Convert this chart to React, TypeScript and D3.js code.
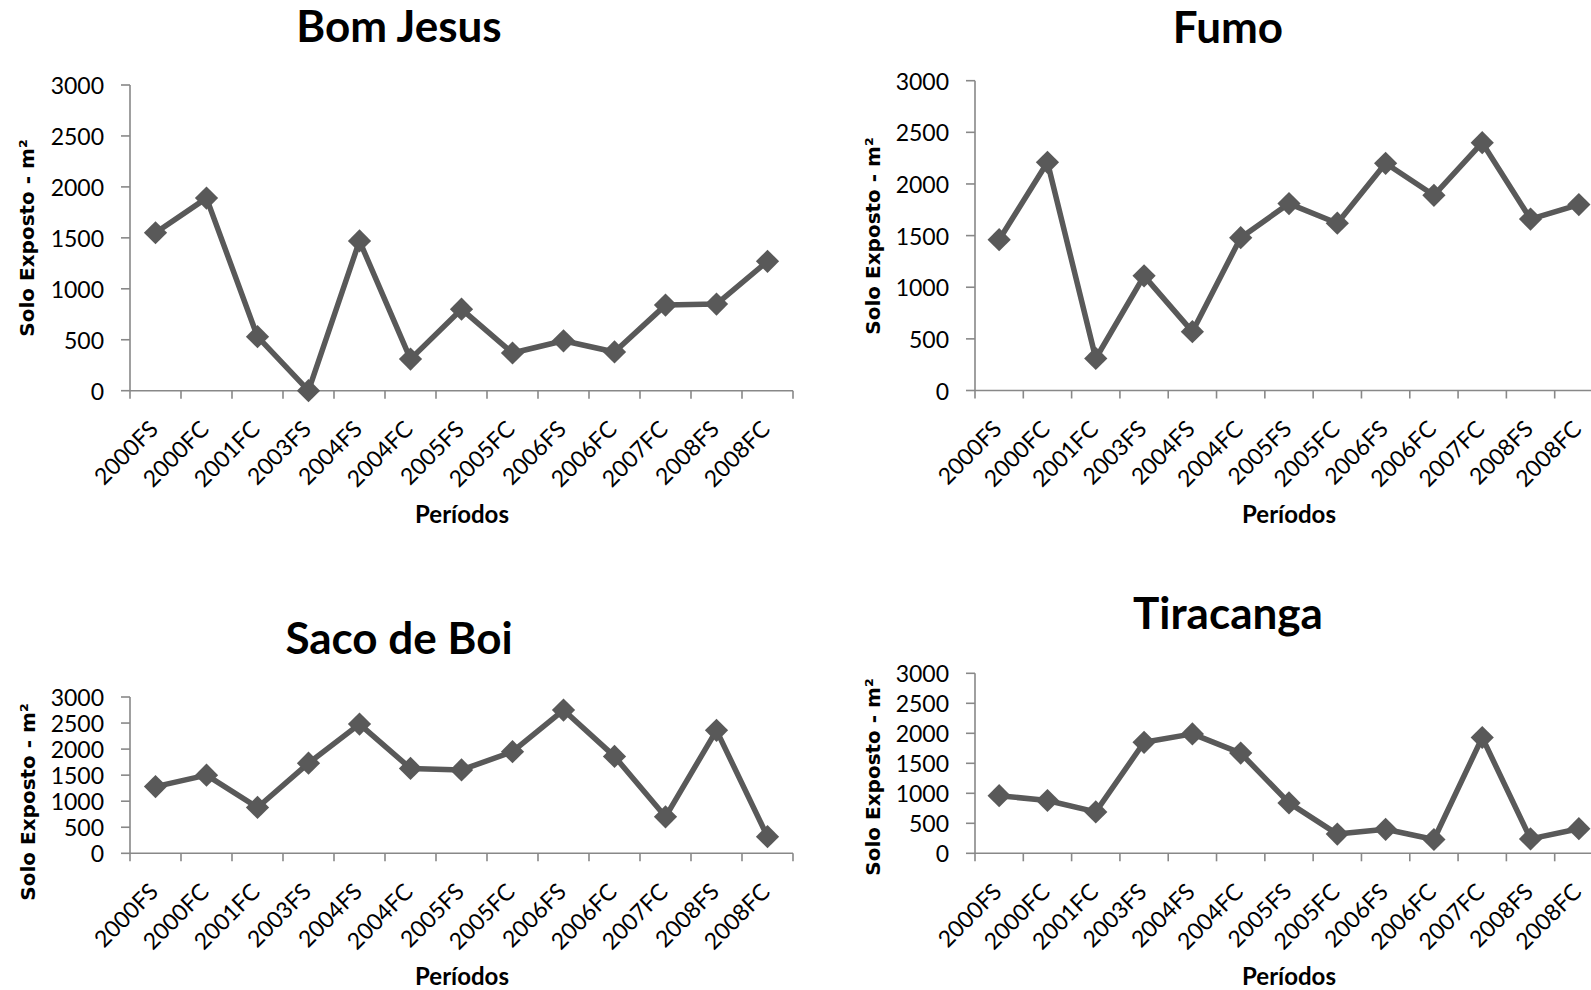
import React from "react";
import * as d3 from "d3";

const categories = ["2000FS","2000FC","2001FC","2003FS","2004FS","2004FC","2005FS","2005FC","2006FS","2006FC","2007FC","2008FS","2008FC"];
const bomJesus = [1550,1890,530,0,1470,310,800,370,490,380,840,850,1270];
const fumo = [1460,2210,310,1110,570,1480,1810,1620,2200,1890,2400,1660,1800];
const sacoDeBoi = [1280,1500,880,1730,2480,1630,1600,1950,2750,1860,700,2360,320];
const tiracanga = [960,880,690,1850,1990,1670,840,320,400,230,1930,240,410];
const yTicks = [0,500,1000,1500,2000,2500,3000];

const panels = [
  { title: "Bom Jesus", values: bomJesus, yTitle: "Solo Exposto  - m²", x0: 130, x1: 793, yTop: 85, yZero: 390.7, tx: 399, ty: 25, ytx: 27, yty: 238, px: 462, py: 513 },
  { title: "Fumo", values: fumo, yTitle: "Solo Exposto - m²", x0: 975, x1: 1603, yTop: 80.7, yZero: 390.5, tx: 1228, ty: 26, ytx: 873, yty: 236, px: 1289, py: 513 },
  { title: "Saco de Boi", values: sacoDeBoi, yTitle: "Solo Exposto - m²", x0: 130, x1: 793, yTop: 697, yZero: 853.3, tx: 399, ty: 637, ytx: 28, yty: 802, px: 462, py: 975 },
  { title: "Tiracanga", values: tiracanga, yTitle: "Solo Exposto - m²", x0: 975, x1: 1603, yTop: 673.3, yZero: 853.3, tx: 1228, ty: 612, ytx: 873, yty: 777, px: 1289, py: 975 },
];

const lineColor = "#595959";
const axisColor = "#888888";

function Panel({ p }: { p: any }) {
  const x = d3.scaleBand<string>().domain(categories).range([p.x0, p.x1]);
  const y = d3.scaleLinear().domain([0, 3000]).range([p.yZero, p.yTop]);
  const line = d3.line<number>()
    .x((_, i) => (x(categories[i]) as number) + x.bandwidth() / 2)
    .y((d) => y(d));
  const diamond = d3.symbol().type(d3.symbolSquare).size(270)();
  const bounds = d3.range(categories.length + 1).map((i) => p.x0 + i * x.bandwidth());
  return (
    <g>
      <text x={p.tx} y={p.ty} textAnchor="middle" dominantBaseline="central" fontFamily="Lato" fontWeight="bold" fontSize={44} fill="#000">{p.title}</text>
      <line x1={p.x0} x2={p.x0} y1={p.yTop} y2={p.yZero} stroke={axisColor} strokeWidth={1.6} />
      {yTicks.map((t) => (
        <g key={t}>
          <line x1={p.x0 - 9} x2={p.x0} y1={y(t)} y2={y(t)} stroke={axisColor} strokeWidth={1.6} />
          <text x={p.x0 - 26} y={y(t)} textAnchor="end" dominantBaseline="central" fontFamily="Lato" fontSize={23} fill="#000">{t}</text>
        </g>
      ))}
      <line x1={p.x0} x2={p.x1} y1={p.yZero} y2={p.yZero} stroke={axisColor} strokeWidth={1.6} />
      {bounds.map((b, i) => (
        <line key={i} x1={b} x2={b} y1={p.yZero} y2={p.yZero + 8} stroke={axisColor} strokeWidth={1.6} />
      ))}
      {categories.map((c) => {
        const cx = (x(c) as number) + x.bandwidth() / 2;
        const ax = cx + 4;
        const ay = p.yZero + 40;
        return (
          <text key={c} x={ax} y={ay} transform={`rotate(-45 ${ax} ${ay})`} textAnchor="end" fontFamily="Lato" fontSize={23} fill="#000">{c}</text>
        );
      })}
      <text transform={`translate(${p.ytx},${p.yty}) rotate(-90)`} textAnchor="middle" dominantBaseline="central" fontFamily="DejaVu Sans" fontWeight="bold" fontSize={20} fill="#000">{p.yTitle}</text>
      <text x={p.px} y={p.py} textAnchor="middle" dominantBaseline="central" fontFamily="Lato" fontWeight="bold" fontSize={24} fill="#000">Períodos</text>
      <path d={line(p.values) as string} fill="none" stroke={lineColor} strokeWidth={5.5} strokeLinejoin="round" />
      {p.values.map((v: number, i: number) => {
        const cx = (x(categories[i]) as number) + x.bandwidth() / 2;
        return <path key={i} d={diamond as string} transform={`translate(${cx},${y(v)}) rotate(45)`} fill={lineColor} />;
      })}
    </g>
  );
}

export default function App() {
  return (
    <svg width={1591} height={990} style={{ position: "absolute", left: 0, top: 0, background: "#fff", overflow: "hidden" }}>
      <rect x={0} y={0} width={1591} height={990} fill="#fff" />
      {panels.map((p) => <Panel key={p.title} p={p} />)}
    </svg>
  );
}
